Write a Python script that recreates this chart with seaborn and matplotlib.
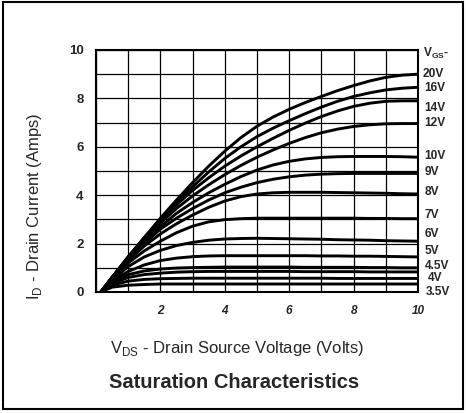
import numpy as np
import pandas as pd
import matplotlib
matplotlib.use("Agg")
import matplotlib.pyplot as plt
from matplotlib.patches import Rectangle
import seaborn as sns

sns.set_style("white")
plt.rcParams['font.family'] = ['Liberation Sans', 'DejaVu Sans']
plt.rcParams['mathtext.fontset'] = 'custom'
plt.rcParams['mathtext.rm'] = 'Liberation Sans'
plt.rcParams['mathtext.bf'] = 'Liberation Sans:bold'

# drain-source voltage sample points (Volts)
vds = [0.15, 0.5, 1, 1.5, 2, 2.5, 3, 3.5, 4, 4.5, 5, 5.5, 6, 6.5, 7, 7.5, 8, 8.5, 9, 9.5, 10]

# drain current (Amps) for each gate voltage
id_20v = [0, 0.6, 1.45, 2.25, 3.05, 3.8, 4.52, 5.2, 5.82, 6.38, 6.85, 7.23, 7.55, 7.83, 8.08, 8.32, 8.53, 8.72, 8.87, 8.96, 9.0]
id_16v = [0, 0.6, 1.45, 2.25, 3.0, 3.7, 4.35, 4.96, 5.52, 6.0, 6.42, 6.77, 7.08, 7.37, 7.64, 7.88, 8.08, 8.23, 8.35, 8.42, 8.46]
id_14v = [0, 0.6, 1.45, 2.2, 2.95, 3.6, 4.2, 4.72, 5.2, 5.62, 6.0, 6.35, 6.68, 6.98, 7.25, 7.48, 7.67, 7.8, 7.88, 7.9, 7.9]
id_12v = [0, 0.6, 1.4, 2.15, 2.85, 3.45, 3.97, 4.43, 4.85, 5.23, 5.57, 5.87, 6.14, 6.38, 6.58, 6.73, 6.84, 6.91, 6.95, 6.96, 6.96]
id_10v = [0, 0.6, 1.4, 2.1, 2.7, 3.25, 3.7, 4.1, 4.45, 4.77, 5.04, 5.25, 5.4, 5.5, 5.56, 5.59, 5.6, 5.6, 5.6, 5.59, 5.57]
id_9v = [0, 0.6, 1.35, 2.0, 2.6, 3.05, 3.45, 3.8, 4.1, 4.33, 4.52, 4.66, 4.76, 4.83, 4.87, 4.89, 4.9, 4.9, 4.9, 4.9, 4.9]
id_8v = [0, 0.55, 1.3, 1.9, 2.4, 2.82, 3.18, 3.5, 3.76, 3.94, 4.05, 4.1, 4.12, 4.12, 4.12, 4.11, 4.1, 4.09, 4.08, 4.06, 4.05]
id_7v = [0, 0.55, 1.2, 1.7, 2.1, 2.45, 2.72, 2.9, 2.99, 3.03, 3.05, 3.05, 3.05, 3.05, 3.05, 3.05, 3.05, 3.04, 3.04, 3.03, 3.03]
id_6v = [0, 0.5, 1.05, 1.45, 1.72, 1.92, 2.05, 2.14, 2.19, 2.21, 2.22, 2.21, 2.2, 2.19, 2.18, 2.16, 2.15, 2.14, 2.12, 2.11, 2.1]
id_5v = [0, 0.45, 0.85, 1.12, 1.3, 1.4, 1.46, 1.49, 1.5, 1.5, 1.5, 1.5, 1.5, 1.5, 1.49, 1.49, 1.48, 1.48, 1.47, 1.46, 1.45]
id_4v5 = [0, 0.4, 0.72, 0.87, 0.95, 0.99, 1.01, 1.02, 1.03, 1.03, 1.03, 1.03, 1.03, 1.02, 1.02, 1.02, 1.02, 1.01, 1.01, 1.0, 1.0]
id_4v = [0, 0.35, 0.6, 0.72, 0.78, 0.82, 0.84, 0.85, 0.85, 0.85, 0.85, 0.85, 0.85, 0.84, 0.84, 0.84, 0.84, 0.83, 0.83, 0.83, 0.83]
id_3v5 = [0, 0.28, 0.45, 0.52, 0.55, 0.56, 0.57, 0.57, 0.57, 0.57, 0.57, 0.57, 0.57, 0.57, 0.57, 0.56, 0.56, 0.56, 0.56, 0.56, 0.56]
id_3v = [0, 0.2, 0.28, 0.31, 0.33, 0.33, 0.33, 0.33, 0.33, 0.33, 0.33, 0.33, 0.33, 0.33, 0.33, 0.33, 0.33, 0.33, 0.33, 0.33, 0.33]

curves = [id_20v, id_16v, id_14v, id_12v, id_10v, id_9v, id_8v, id_7v,
          id_6v, id_5v, id_4v5, id_4v, id_3v5, id_3v]
vgs_names = ['20V', '16V', '14V', '12V', '10V', '9V', '8V', '7V',
             '6V', '5V', '4.5V', '4V', '3.5V', '3V']

# right-hand label text and where it sits (data units)
label_text = ['20V', '16V', '14V', '12V', '10V', '9V', '8V', '7V',
              '6V', '5V', '4.5V', '4V', '3.5V']
label_y = [9.0, 8.45, 7.6, 7.0, 5.6, 4.95, 4.15, 3.2, 2.4, 1.7, 1.06, 0.56, 0.02]
label_x = [10.15, 10.2, 10.2, 10.2, 10.2, 10.2, 10.2, 10.2, 10.2, 10.2, 10.2, 10.3, 10.25]

x_ticklabels = ['', '2', '4', '6', '8', '10']
y_ticklabels = ['0', '2', '4', '6', '8', '10']

df = pd.concat([pd.DataFrame({'vds': vds, 'id': c, 'vgs': n})
                for c, n in zip(curves, vgs_names)], ignore_index=True)

fig = plt.figure(figsize=(4.66, 4.13), dpi=100)
ax = fig.add_axes([96 / 466, 1 - 292 / 413, (418 - 96) / 466, (292 - 50) / 413])

sns.lineplot(data=df, x='vds', y='id', hue='vgs', palette=['black'] * len(vgs_names),
             legend=False, sort=False, lw=2.1, ax=ax, zorder=3)

ax.set_xlim(0, 10)
ax.set_ylim(0, 10)
ax.set_xticks(range(0, 11))
ax.set_yticks(range(0, 11))
ax.set_xticklabels([x_ticklabels[i // 2] if i % 2 == 0 else '' for i in range(11)],
                   fontsize=8.5, fontweight='bold', fontstyle='italic')
ax.set_yticklabels([y_ticklabels[i // 2] if i % 2 == 0 else '' for i in range(11)],
                   fontsize=9.5, fontweight='bold')
ax.tick_params(length=0, pad=9)
ax.grid(True, color='black', lw=0.9)
ax.set_xlabel('')
ax.set_ylabel('')
for s in ax.spines.values():
    s.set_color('black')
    s.set_linewidth(1.5)

for t, lx, ly in zip(label_text, label_x, label_y):
    ax.text(lx, ly, t, fontsize=8.6, fontweight='bold', va='center', ha='left',
            clip_on=False)
ax.text(10.15, 9.85, r'V$_{\mathbf{GS}}$-', fontsize=8.6, fontweight='bold',
        va='center', ha='left', clip_on=False)

fig.text(35 / 466, 1 - 206 / 413, r'I$_{\mathrm{D}}$ - Drain Current (Amps)',
         rotation=90, fontsize=12, ha='center', va='center')
fig.text(237 / 466, 1 - 349 / 413, r'V$_{\mathrm{DS}}$ - Drain Source Voltage (Volts)',
         fontsize=12, ha='center', va='center')
fig.text(234 / 466, 1 - 382 / 413, 'Saturation Characteristics',
         fontsize=14.5, fontweight='bold', ha='center', va='center')

fig.add_artist(Rectangle((3 / 466, 4 / 413), 460 / 466, 407 / 413,
                         transform=fig.transFigure, fill=False, lw=1.5, color='black'))

fig.savefig('out.png', dpi=100)
